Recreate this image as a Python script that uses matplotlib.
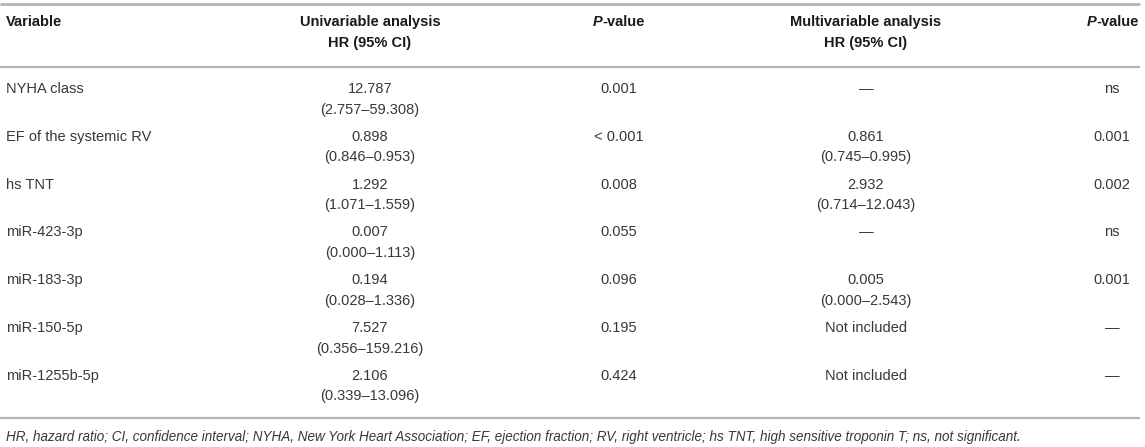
import matplotlib
matplotlib.use("Agg")
import matplotlib.pyplot as plt

variables = ["NYHA class", "EF of the systemic RV", "hs TNT", "miR-423-3p",
             "miR-183-3p", "miR-150-5p", "miR-1255b-5p"]
uni_hr = ["12.787", "0.898", "1.292", "0.007", "0.194", "7.527", "2.106"]
uni_ci = ["(2.757–59.308)", "(0.846–0.953)", "(1.071–1.559)", "(0.000–1.113)",
          "(0.028–1.336)", "(0.356–159.216)", "(0.339–13.096)"]
uni_p = ["0.001", "< 0.001", "0.008", "0.055", "0.096", "0.195", "0.424"]
multi_hr = ["—", "0.861", "2.932", "—", "0.005", "Not included", "Not included"]
multi_ci = ["", "(0.745–0.995)", "(0.714–12.043)", "", "(0.000–2.543)", "", ""]
multi_p = ["ns", "0.001", "0.002", "ns", "0.001", "—", "—"]
footnote = ("HR, hazard ratio; CI, confidence interval; NYHA, New York Heart Association; "
            "EF, ejection fraction; RV, right ventricle; hs TNT, high sensitive troponin T; "
            "ns, not significant.")

W, H = 1145, 447
fig = plt.figure(figsize=(W / 100, H / 100), dpi=100)
ax = fig.add_axes([0, 0, 1, 1])
ax.set_xlim(0, W)
ax.set_ylim(H, 0)
ax.axis("off")

FONT = ["Liberation Sans", "DejaVu Sans"]
FS = 10.5
TXT = "#383838"
HDR = "#1a1a1a"
LINE = "#b3b3b3"

x_var = 6
x_uni = 370
x_p1 = 619
x_multi = 866
x_p2 = 1112

# rules
for y, lw in [(4, 2.0), (66.5, 1.6), (418, 1.6)]:
    ax.plot([0, 1140], [y, y], color=LINE, lw=lw, solid_capstyle="butt")

def t(x, y, s, ha="center", **kw):
    kw.setdefault("color", TXT)
    kw.setdefault("fontsize", FS)
    return ax.text(x, y, s, ha=ha, va="center", family=FONT, **kw)

# header
hy1, hy2 = 22, 43
t(x_var, hy1, "Variable", ha="left", weight="bold", color=HDR)
t(x_uni, hy1, "Univariable analysis", weight="bold", color=HDR)
t(x_uni, hy2, "HR (95% CI)", weight="bold", color=HDR)
t(x_multi, hy1, "Multivariable analysis", weight="bold", color=HDR)
t(x_multi, hy2, "HR (95% CI)", weight="bold", color=HDR)

fig.canvas.draw()
renderer = fig.canvas.get_renderer()

def pvalue_header(xc, y):
    a = t(0, y, "P", ha="left", weight="bold", style="italic", color=HDR)
    b = t(0, y, "-value", ha="left", weight="bold", color=HDR)
    wa = a.get_window_extent(renderer).width
    wb = b.get_window_extent(renderer).width
    x0 = xc - (wa + wb) / 2
    a.set_x(x0)
    b.set_x(x0 + wa)

pvalue_header(x_p1, hy1)
pvalue_header(x_p2 + 1, hy1)

# body
y0, pitch, sub = 89, 47.8, 20.7
for i in range(len(variables)):
    y = y0 + pitch * i
    t(x_var, y, variables[i], ha="left")
    t(x_uni, y, uni_hr[i])
    t(x_uni, y + sub, uni_ci[i])
    t(x_p1, y, uni_p[i])
    t(x_multi, y, multi_hr[i])
    if multi_ci[i]:
        t(x_multi, y + sub, multi_ci[i])
    t(x_p2, y, multi_p[i])

t(x_var, 437, footnote, ha="left", style="italic", fontsize=9.75)

fig.savefig("out.png", dpi=100, facecolor="white")
